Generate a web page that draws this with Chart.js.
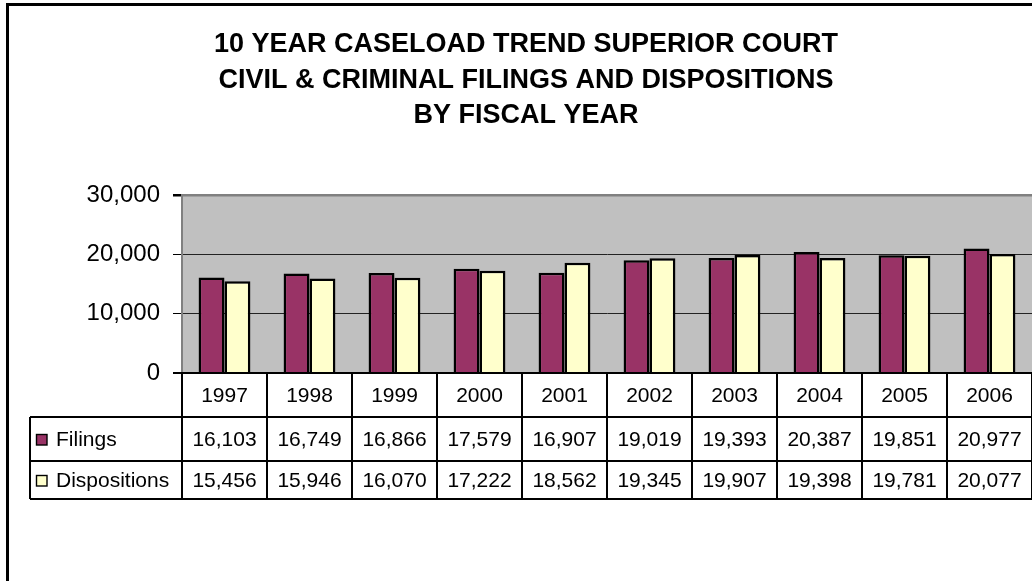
<!DOCTYPE html>
<html>
<head>
<meta charset="utf-8">
<title>10 Year Caseload Trend</title>
<script src="https://cdn.jsdelivr.net/npm/chart.js@4.4.1/dist/chart.umd.min.js"></script>
<style>
  html, body { margin: 0; padding: 0; background: #fff; }
  #chart { display: block; }
</style>
</head>
<body>
<canvas id="chart" width="1032" height="581"></canvas>
<script>
const years = ['1997', '1998', '1999', '2000', '2001', '2002', '2003', '2004', '2005', '2006'];
const filings = [16103, 16749, 16866, 17579, 16907, 19019, 19393, 20387, 19851, 20977];
const dispositions = [15456, 15946, 16070, 17222, 18562, 19345, 19907, 19398, 19781, 20077];
const yTicks = [0, 10000, 20000, 30000];
const titleLines = [
    '10 YEAR CASELOAD TREND SUPERIOR COURT',
    'CIVIL & CRIMINAL FILINGS AND DISPOSITIONS',
    'BY FISCAL YEAR'
];

const FONT = '"Liberation Sans", Arial, sans-serif';
const FILINGS_COLOR = '#993366';
const DISP_COLOR = '#ffffcc';
const fmt = v => v.toLocaleString('en-US');

// grey plot area, page background
const backdrop = {
    id: 'backdrop',
    beforeDraw(chart) {
        const ctx = chart.ctx;
        const a = chart.chartArea;
        ctx.save();
        ctx.fillStyle = '#fff';
        ctx.fillRect(0, 0, chart.width, chart.height);
        ctx.fillStyle = '#c0c0c0';
        ctx.fillRect(a.left, a.top, a.right - a.left, a.bottom - a.top);
        ctx.restore();
    }
};

// data table under the axis, title and outer frame
const dataTable = {
    id: 'dataTable',
    afterDraw(chart) {
        const ctx = chart.ctx;
        const a = chart.chartArea;
        const xs = chart.scales.x;
        const cw = (a.right - a.left) / years.length;
        const rows = [a.bottom, 417, 461, 499];
        const tableLeft = 30;

        ctx.save();
        ctx.strokeStyle = '#000';
        ctx.lineWidth = 2;

        // axis line
        ctx.beginPath();
        ctx.moveTo(a.left - 9, a.bottom);
        ctx.lineTo(chart.width, a.bottom);
        ctx.stroke();

        // horizontal rules
        ctx.beginPath();
        for (let r = 1; r < rows.length; r++) {
            ctx.moveTo(tableLeft, rows[r]);
            ctx.lineTo(chart.width, rows[r]);
        }
        // vertical rules
        ctx.moveTo(tableLeft, rows[1]);
        ctx.lineTo(tableLeft, rows[3]);
        for (let i = 0; i <= years.length; i++) {
            const x = Math.round(a.left + i * cw);
            ctx.moveTo(x, rows[0]);
            ctx.lineTo(x, rows[3]);
        }
        ctx.stroke();

        // cell text
        ctx.fillStyle = '#000';
        ctx.font = '21px ' + FONT;
        ctx.textAlign = 'center';
        ctx.textBaseline = 'middle';
        years.forEach((yr, i) => {
            const cx = xs.getPixelForValue(i);
            ctx.fillText(yr, cx, (rows[0] + rows[1]) / 2 + 1);
            ctx.fillText(fmt(filings[i]), cx, (rows[1] + rows[2]) / 2 + 1);
            ctx.fillText(fmt(dispositions[i]), cx, (rows[2] + rows[3]) / 2 + 1);
        });

        // row headers with legend keys
        const series = [
            { label: chart.data.datasets[0].label, color: FILINGS_COLOR, y: (rows[1] + rows[2]) / 2 },
            { label: chart.data.datasets[1].label, color: DISP_COLOR, y: (rows[2] + rows[3]) / 2 }
        ];
        ctx.textAlign = 'left';
        series.forEach(s => {
            ctx.fillStyle = s.color;
            ctx.fillRect(36, Math.round(s.y) - 5, 11, 11);
            ctx.lineWidth = 1.4;
            ctx.strokeRect(36.5, Math.round(s.y) - 4.5, 10.5, 10.5);
            ctx.fillStyle = '#000';
            ctx.fillText(s.label, 56, s.y + 1);
        });

        // title
        ctx.font = 'bold 27px ' + FONT;
        ctx.textAlign = 'center';
        ctx.textBaseline = 'alphabetic';
        titleLines.forEach((t, i) => ctx.fillText(t, 526, 52 + i * 35.5));

        // frame
        ctx.lineWidth = 3;
        ctx.strokeRect(7.5, 4.5, chart.width + 20, chart.height + 20);
        ctx.restore();
    }
};

new Chart(document.getElementById('chart'), {
    type: 'bar',
    data: {
        labels: years,
        datasets: [{
            label: 'Filings',
            data: filings,
            backgroundColor: FILINGS_COLOR,
            borderColor: '#000',
            borderWidth: 2.5
        }, {
            label: 'Dispositions',
            data: dispositions,
            backgroundColor: DISP_COLOR,
            borderColor: '#000',
            borderWidth: 2.5
        }]
    },
    options: {
        responsive: false,
        animation: false,
        layout: {
            padding: { left: 0, top: 195, right: 0, bottom: 208 }
        },
        datasets: {
            bar: { categoryPercentage: 0.61, barPercentage: 1 }
        },
        scales: {
            x: { display: false },
            y: {
                min: 0,
                max: 30000,
                afterBuildTicks: s => { s.ticks = yTicks.map(v => ({ value: v })); },
                afterFit: s => { s.width = 182; },
                ticks: {
                    color: '#000',
                    font: { family: FONT, size: 24 },
                    padding: 13,
                    callback: v => fmt(v)
                },
                grid: {
                    color: c => c.tick && c.tick.value === 30000 ? '#808080' : '#222',
                    lineWidth: c => c.tick && c.tick.value === 30000 ? 2.5 : 1,
                    tickColor: '#000',
                    tickLength: 9
                },
                border: { color: '#808080', width: 2 }
            }
        },
        plugins: {
            legend: { display: false },
            tooltip: { enabled: false }
        }
    },
    plugins: [backdrop, dataTable]
});
</script>
</body>
</html>
